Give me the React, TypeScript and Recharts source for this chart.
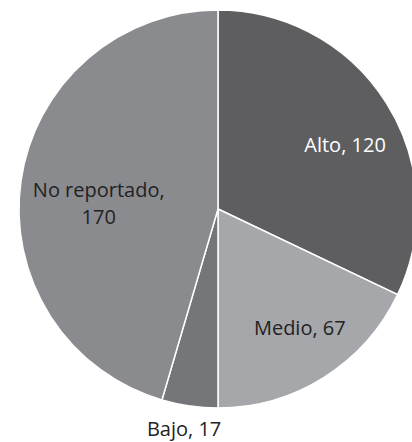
import { PieChart, Pie, Cell } from 'recharts'

const categories = ['Alto', 'Medio', 'Bajo', 'No reportado']
const values = [120, 67, 17, 170]
const colors = ['#5e5e61', '#a6a7aa', '#75767a', '#8a8b8f']
const labelColors = ['#ffffff', '#222222', '#222222', '#222222']
// where each label sits: share of the radius and a small angle nudge
const labelRadius = [0.715, 0.725, 1.115, 0.6]
const labelAngleShift = [-5.5, 2.3, -0.6, 5.3]

const data = categories.map((name, i) => ({ name, value: values[i] }))

const RAD = Math.PI / 180

function renderLabel(props: any) {
    const { cx, cy, midAngle, outerRadius, index } = props
    const a = (midAngle + labelAngleShift[index]) * RAD
    const r = outerRadius * labelRadius[index]
    const x = cx + r * Math.cos(a)
    const y = cy - r * Math.sin(a)
    const name = categories[index]
    const val = values[index]
    const style = { fontFamily: '"Open Sans", sans-serif', fontSize: 20, fill: labelColors[index] }
    if (name === 'No reportado') {
        return (
            <text x={x} y={y} textAnchor="middle" style={style}>
                <tspan x={x} dy={-6}>{name},</tspan>
                <tspan x={x} dy={27}>{val}</tspan>
            </text>
        )
    }
    return (
        <text x={x} y={y} textAnchor="middle" dominantBaseline="central" style={style}>
            {name}, {val}
        </text>
    )
}

export default function App() {
    return (
        <div style={{ position: 'absolute', left: 0, top: 0, width: 412, height: 442, background: '#fff' }}>
            <PieChart width={412} height={442} margin={{ top: 0, right: 0, bottom: 0, left: 0 }}>
                <Pie
                    data={data}
                    dataKey="value"
                    nameKey="name"
                    cx={218}
                    cy={209}
                    outerRadius={199}
                    startAngle={90}
                    endAngle={-270}
                    stroke="#ffffff"
                    strokeWidth={1.5}
                    label={renderLabel}
                    labelLine={false}
                    isAnimationActive={false}
                >
                    {data.map((d, i) => (
                        <Cell key={d.name} fill={colors[i]} />
                    ))}
                </Pie>
            </PieChart>
        </div>
    )
}
